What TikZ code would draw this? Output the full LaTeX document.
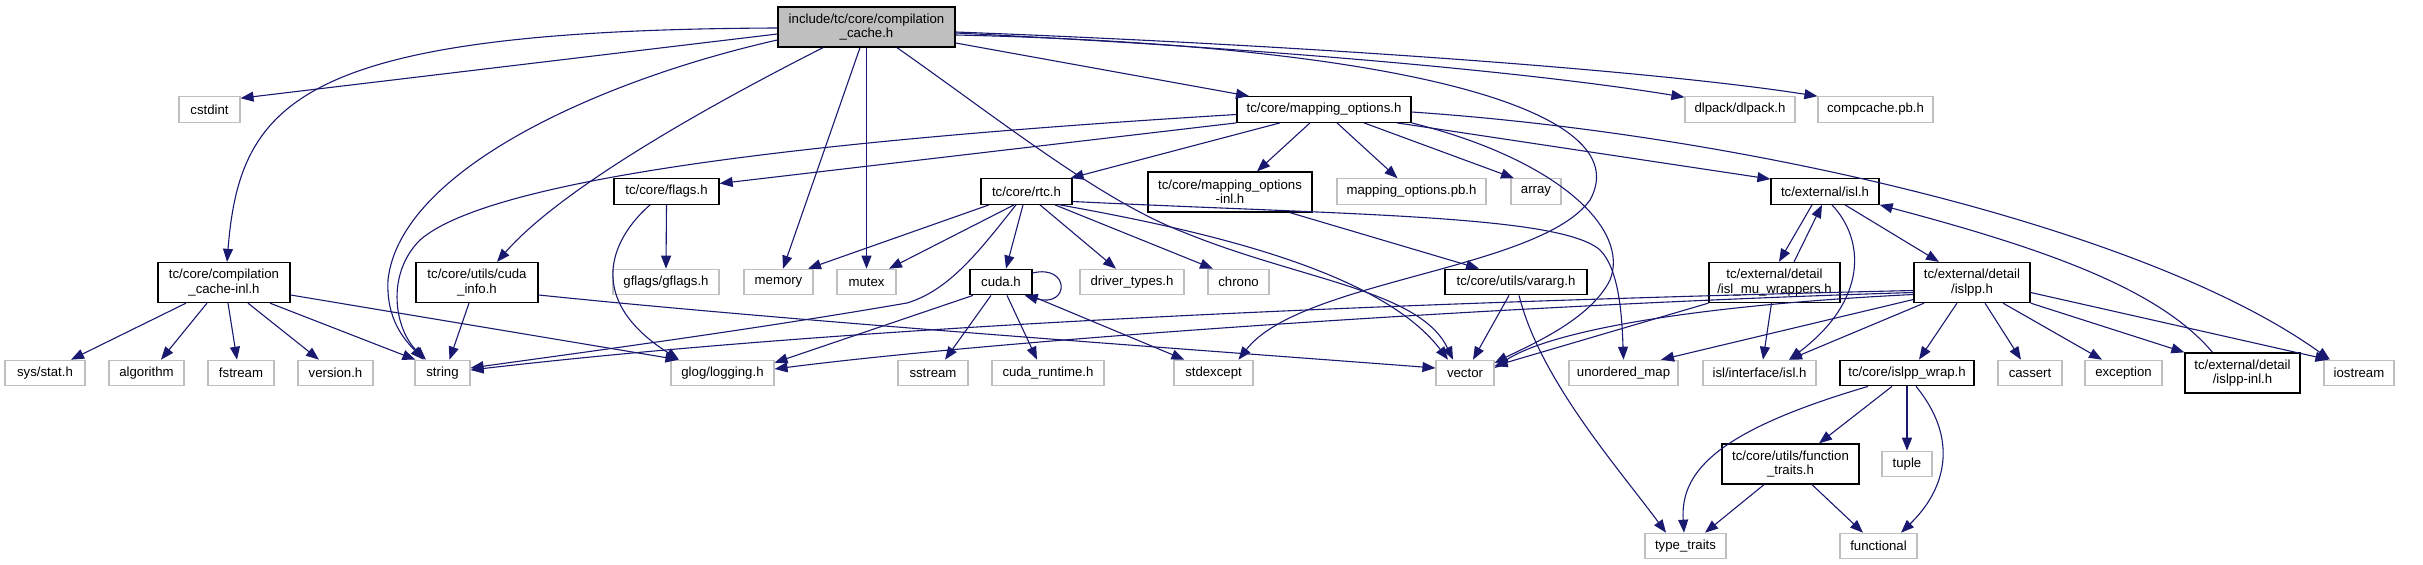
\documentclass[tikz,border=0pt]{standalone}
\usepackage{fontspec}
\setmainfont{Liberation Sans}
\usetikzlibrary{arrows.meta,calc}
\definecolor{navy}{HTML}{191970}
\definecolor{grey75}{HTML}{BFBFBF}
\newcommand{\nodefont}{\fontsize{13.2bp}{14.3bp}\selectfont}
\begin{document}
\begin{tikzpicture}[x=1bp,y=-1bp,
  box/.style={rectangle, inner sep=0pt, minimum height=25.5bp, align=center, font=\nodefont, line width=1.1bp, fill=white},
  doc/.style={box, draw=black, line width=1.3bp},
  ext/.style={box, draw=grey75},
  two/.style={minimum height=40bp},
  lnk/.style={draw=navy, line width=1.1bp, -{Triangle[length=13bp,width=10bp]}}]
\useasboundingbox (0,0) rectangle (2423,565);
% row 0
\node[doc,fill=grey75,two,minimum width=177bp] (M) at (866.5,27) {include/tc/core/compilation\\\_cache.h};
% row 1
\node[ext,minimum width=61bp] (cstdint) at (209.5,109.5) {cstdint};
\node[doc,minimum width=174bp] (mp) at (1324,109.5) {tc/core/mapping\_options.h};
\node[ext,minimum width=110bp] (dlpack) at (1740,109.5) {dlpack/dlpack.h};
\node[ext,minimum width=115bp] (compcache) at (1875.5,109.5) {compcache.pb.h};
% row 2
\node[doc,minimum width=105bp] (flags) at (666.5,191.5) {tc/core/flags.h};
\node[doc,minimum width=91bp] (rtc) at (1026.5,191.5) {tc/core/rtc.h};
\node[doc,two,minimum width=164bp] (mpinl) at (1230,192) {tc/core/mapping\_options\\-inl.h};
\node[ext,minimum width=149bp] (mppb) at (1411.5,191.5) {mapping\_options.pb.h};
\node[ext,minimum width=50bp] (array) at (1536,191.5) {array};
\node[doc,minimum width=108bp] (isl) at (1825,191.5) {tc/external/isl.h};
% row 3
\node[doc,two,minimum width=132bp] (compinl) at (224,282.5) {tc/core/compilation\\\_cache-inl.h};
\node[doc,two,minimum width=122bp] (cudainfo) at (477,282.5) {tc/core/utils/cuda\\\_info.h};
\node[ext,minimum width=106bp] (gflags) at (666,282) {gflags/gflags.h};
\node[ext,minimum width=69bp] (memory) at (778.5,282) {memory};
\node[ext,minimum width=59bp] (mutex) at (866.5,282) {mutex};
\node[doc,minimum width=62bp] (cuda) at (1001,282) {cuda.h};
\node[ext,minimum width=104bp] (driver) at (1132,282) {driver\_types.h};
\node[ext,minimum width=61bp] (chrono) at (1238.5,282) {chrono};
\node[doc,minimum width=142bp] (vararg) at (1516,282) {tc/core/utils/vararg.h};
\node[doc,two,minimum width=131bp] (islmu) at (1774.5,282.5) {tc/external/detail\\/isl\_mu\_wrappers.h};
\node[doc,two,minimum width=116bp] (islpp) at (1972,282.5) {tc/external/detail\\/islpp.h};
% row 4
\node[ext,minimum width=80bp] (sysstat) at (45,373) {sys/stat.h};
\node[ext,minimum width=75bp] (algorithm) at (146.5,373) {algorithm};
\node[ext,minimum width=66bp] (fstream) at (241,373) {fstream};
\node[ext,minimum width=75bp] (version) at (335.5,373) {version.h};
\node[ext,minimum width=55bp] (string) at (442.5,373) {string};
\node[ext,minimum width=103bp] (glog) at (722.5,373) {glog/logging.h};
\node[ext,minimum width=70bp] (sstream) at (933,373) {sstream};
\node[ext,minimum width=112bp] (cudart) at (1048,373) {cuda\_runtime.h};
\node[ext,minimum width=79bp] (stdexcept) at (1213.5,373) {stdexcept};
\node[ext,minimum width=58bp] (vector) at (1465,373) {vector};
\node[ext,minimum width=109bp] (umap) at (1623.5,373) {unordered\_map};
\node[ext,minimum width=113bp] (islif) at (1759.5,373) {isl/interface/isl.h};
\node[doc,minimum width=134bp] (islwrap) at (1907,373) {tc/core/islpp\_wrap.h};
\node[ext,minimum width=64bp] (cassert) at (2030,373) {cassert};
\node[ext,minimum width=77bp] (exception) at (2123.5,373) {exception};
\node[doc,two,minimum width=115bp] (islppinl) at (2242.5,373) {tc/external/detail\\/islpp-inl.h};
\node[ext,minimum width=70bp] (iostream) at (2359,373) {iostream};
% row 5
\node[doc,two,minimum width=137bp] (functr) at (1790.5,464) {tc/core/utils/function\\\_traits.h};
\node[ext,minimum width=50bp] (tuple) at (1907,464) {tuple};
% row 6
\node[ext,minimum width=81bp] (typetr) at (1685.5,546) {type\_traits};
\node[ext,minimum width=77bp] (functional) at (1878.5,546) {functional};

% edges from main node
\draw[lnk] ($(M.west)+(0,7)$) -- ($(cstdint.north east)+(0,2)$);
\draw[lnk] ($(M.west)+(0,1)$) .. controls (300,30) and (240,100) .. ($(compinl.north)+(3,0)$);
\draw[lnk] ($(M.west)+(0,13)$) .. controls (600,80) and (400,170) .. (388,280) .. controls (386,320) and (405,340) .. ($(string.north)+(-19,0)$);
\draw[lnk] ($(M.south)+(-43.5,0)$) .. controls (700,110) and (560,190) .. ($(cudainfo.north)+(20,0)$);
\draw[lnk] ($(M.south)+(-6.5,0)$) -- ($(memory.north)+(4.5,0)$);
\draw[lnk] (M.south) -- (mutex.north);
\draw[lnk] ($(M.south)+(30.5,0)$) .. controls (1000,120) and (1100,200) .. (1183,232) .. controls (1300,280) and (1420,290) .. ($(vector.north)+(-12,0)$);
\draw[lnk] ($(M.east)+(0,16)$) -- ($(mp.north)+(-75,0)$);
\draw[lnk] ($(M.east)+(0,6)$) .. controls (1300,50) and (1550,75) .. ($(dlpack.north west)+(0,1)$);
\draw[lnk] ($(M.east)+(0,5)$) .. controls (1300,45) and (1650,70) .. ($(compcache.north west)+(0,0)$);
\draw[lnk] ($(M.east)+(0,8)$) .. controls (1400,45) and (1640,110) .. (1590,200) .. controls (1540,270) and (1300,280) .. ($(stdexcept.north)+(25,0)$);

% compilation_cache-inl.h
\draw[lnk] ($(compinl.south)+(-38,0)$) -- ($(sysstat.north)+(26,0)$);
\draw[lnk] ($(compinl.south)+(-17,0)$) -- ($(algorithm.north)+(14.5,0)$);
\draw[lnk] ($(compinl.south)+(4,0)$) -- ($(fstream.north)+(-4,0)$);
\draw[lnk] ($(compinl.south)+(24,0)$) -- ($(version.north)+(-16.5,0)$);
\draw[lnk] ($(compinl.south)+(46,0)$) -- ($(string.north west)+(1,0)$);
\draw[lnk] ($(compinl.east)+(0,12.5)$) -- ($(glog.north west)+(8,0)$);

% cuda_info.h
\draw[lnk] ($(cudainfo.south)+(-8,0)$) -- ($(string.north)+(7,0)$);
\draw[lnk] ($(cudainfo.east)+(0,12.5)$) .. controls (800,322) and (1200,350) .. ($(vector.west)+(0,-5)$);

% flags.h
\draw[lnk] (flags.south) -- (gflags.north);
\draw[lnk] ($(flags.south)+(-16.5,0)$) .. controls (610,240) and (585,300) .. ($(glog.north)+(-43.5,0)$);

% mapping_options.h
\draw[lnk] ($(mp.west)+(0,5)$) .. controls (900,135) and (500,170) .. (420,240) .. controls (385,275) and (395,330) .. ($(string.north)+(-16.5,0)$);
\draw[lnk] (mp.south west) -- ($(flags.east)+(0,-8)$);
\draw[lnk] ($(mp.south)+(-44,0)$) -- ($(rtc.north)+(44,0)$);
\draw[lnk] ($(mp.south)+(-14,0)$) -- ($(mpinl.north)+(27,0)$);
\draw[lnk] ($(mp.south)+(13,0)$) -- ($(mppb.north)+(-14,0)$);
\draw[lnk] ($(mp.south)+(40,0)$) -- ($(array.north)+(-22,0)$);
\draw[lnk] ($(mp.south)+(73,0)$) -- ($(isl.north west)+(0,1)$);
\draw[lnk] ($(mp.east)+(0,2.5)$) .. controls (1750,135) and (2150,230) .. ($(iostream.north)+(-29,0)$);
\draw[lnk] (mp.south east) .. controls (1560,160) and (1630,230) .. (1610,280) .. controls (1590,320) and (1530,345) .. ($(vector.east)+(0,-10)$);

% rtc.h
\draw[lnk] ($(rtc.south)+(-37.5,0)$) -- ($(memory.north)+(29.5,0)$);
\draw[lnk] ($(rtc.south)+(-12.5,0)$) -- ($(mutex.north)+(22.5,0)$);
\draw[lnk] ($(rtc.south)+(-10.5,0)$) .. controls (980,250) and (950,290) .. (907,303) .. controls (750,330) and (600,350) .. ($(string.east)+(0,-5)$);
\draw[lnk] ($(rtc.south)+(-3.5,0)$) -- ($(cuda.north)+(5,0)$);
\draw[lnk] ($(rtc.south)+(13.5,0)$) -- ($(driver.north)+(-16,0)$);
\draw[lnk] ($(rtc.south)+(28.5,0)$) -- ($(chrono.north)+(-25.5,0)$);
\draw[lnk] ($(rtc.south)+(33.5,0)$) .. controls (1200,230) and (1380,270) .. ($(vector.north)+(-17,0)$);
\draw[lnk] ($(rtc.east)+(0,10)$) .. controls (1350,215) and (1560,215) .. (1600,250) .. controls (1620,270) and (1622,320) .. (umap.north);

% cuda.h
\draw[lnk] ($(cuda.east)+(0,-9)$) .. controls (1070,264) and (1070,308) .. ($(cuda.south east)+(-8,0)$);
\draw[lnk] ($(cuda.south)+(-28,0)$) -- ($(glog.north east)+(0,3)$);
\draw[lnk] ($(cuda.south)+(-10,0)$) -- ($(sstream.north)+(12,0)$);
\draw[lnk] ($(cuda.south)+(6,0)$) -- ($(cudart.north)+(-11,0)$);
\draw[lnk] ($(cuda.south east)+(0,1)$) -- ($(stdexcept.north west)+(11,0)$);

% mapping_options-inl.h and vararg.h
\draw[lnk] ($(mpinl.south)+(60,0)$) -- ($(vararg.north)+(-37,0)$);
\draw[lnk] ($(vararg.south)+(-7,0)$) -- ($(vector.north)+(8,0)$);
\draw[lnk] ($(vararg.south)+(3,0)$) .. controls (1540,380) and (1620,470) .. ($(typetr.north)+(-19.5,0)$);

% isl.h
\draw[lnk] ($(isl.south)+(-13,0)$) -- ($(islmu.north)+(4.5,0)$);
\draw[lnk] ($(islmu.north)+(19.5,0)$) -- ($(isl.south)+(-3,0)$);
\draw[lnk] ($(isl.south)+(7,0)$) .. controls (1865,240) and (1868,300) .. ($(islif.north)+(29.5,0)$);
\draw[lnk] ($(isl.south)+(20,0)$) -- ($(islpp.north)+(-33,0)$);
\draw[lnk] ($(islppinl.north)+(-30,0)$) .. controls (2160,290) and (2050,250) .. (isl.south east);

% isl_mu_wrappers.h
\draw[lnk] ($(islmu.south)+(-3,0)$) -- ($(islif.north)+(3.5,0)$);
\draw[lnk] (islmu.south west) -- ($(vector.east)+(0,-7)$);

% islpp.h
\draw[lnk] ($(islpp.west)+(0,8)$) .. controls (1500,300) and (900,320) .. ($(string.east)+(0,-3)$);
\draw[lnk] ($(islpp.west)+(0,10)$) .. controls (1500,305) and (1000,340) .. ($(glog.east)+(0,-4)$);
\draw[lnk] ($(islpp.west)+(0,12)$) .. controls (1700,305) and (1550,330) .. ($(vector.east)+(0,-5)$);
\draw[lnk] ($(islpp.west)+(0,17)$) -- ($(umap.north)+(37.5,0)$);
\draw[lnk] ($(islpp.south)+(-48,0)$) -- ($(islif.north)+(29.5,0)$);
\draw[lnk] ($(islpp.south)+(-15,0)$) -- ($(islwrap.north)+(12,0)$);
\draw[lnk] ($(islpp.south)+(13,0)$) -- ($(cassert.north)+(-9,0)$);
\draw[lnk] ($(islpp.south)+(31,0)$) -- ($(exception.north)+(-21.5,0)$);
\draw[lnk] (islpp.south east) -- (islppinl.north west);
\draw[lnk] ($(islpp.east)+(0,10)$) -- ($(iostream.north west)+(5,0)$);

% islpp_wrap.h
\draw[lnk] ($(islwrap.south)+(-39,0)$) .. controls (1720,430) and (1680,470) .. ($(typetr.north)+(-1.5,0)$);
\draw[lnk] ($(islwrap.south)+(-15,0)$) -- ($(functr.north)+(28.5,0)$);
\draw[lnk] (islwrap.south) -- (tuple.north);
\draw[lnk] ($(islwrap.south)+(9,0)$) .. controls (1960,440) and (1945,490) .. ($(functional.north)+(22.5,0)$);

% function_traits.h
\draw[lnk] ($(functr.south)+(-26.5,0)$) -- ($(typetr.north)+(19.5,0)$);
\draw[lnk] ($(functr.south)+(21.5,0)$) -- ($(functional.north)+(-15.5,0)$);
\end{tikzpicture}
\end{document}
